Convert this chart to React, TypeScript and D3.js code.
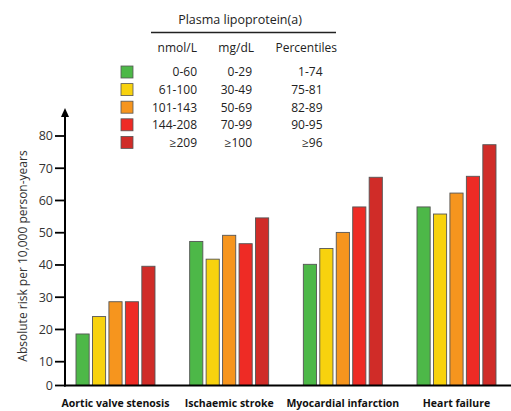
import React from "react";
import * as d3 from "d3";

const categories = ["Aortic valve stenosis", "Ischaemic stroke", "Myocardial infarction", "Heart failure"];
const levels = ["0-60", "61-100", "101-143", "144-208", "≥209"];
const mgdl = ["0-29", "30-49", "50-69", "70-99", "≥100"];
const percentiles = ["1-74", "75-81", "82-89", "90-95", "≥96"];
const colors = ["#4db848", "#f8d20e", "#f6951e", "#ee2b25", "#d02c28"];
const values = [
  [18.6, 24.0, 28.6, 28.6, 39.6],
  [47.3, 41.8, 49.2, 46.6, 54.6],
  [40.2, 45.1, 50.1, 58.0, 67.2],
  [58.0, 55.8, 62.3, 67.5, 77.3],
];
const yTicks = [0, 10, 20, 30, 40, 50, 60, 70, 80];

const W = 511;
const H = 411;
const FONT = "'Open Sans', 'DejaVu Sans', sans-serif";

export default function App() {
  const axisX = 65;
  const y = d3.scaleLinear().domain([0, 10, 80]).range([385.5, 361.7, 136]);
  const x0 = d3.scaleBand<string>().domain(categories).range([76, 496]).paddingInner(0.305).paddingOuter(0);
  const x1 = d3.scaleBand<number>().domain(d3.range(levels.length)).range([0, x0.bandwidth()]).paddingInner(0.2);

  const rowY = (i: number) => 72 + i * 17.6;

  return (
    <svg width={W} height={H} style={{ position: "absolute", left: 0, top: 0, background: "#fff" }} fontFamily={FONT}>
      {/* Legend */}
      <text x={240} y={24} textAnchor="middle" fontSize={12.5} fill="#222">Plasma lipoprotein(a)</text>
      <line x1={151} x2={336} y1={32.5} y2={32.5} stroke="#222" strokeWidth={1.3} />
      <text x={197} y={52} textAnchor="end" fontSize={12} fill="#222">nmol/L</text>
      <text x={254} y={52} textAnchor="end" fontSize={12} fill="#222">mg/dL</text>
      <text x={337} y={52} textAnchor="end" fontSize={12} fill="#222">Percentiles</text>
      {levels.map((lv, i) => (
        <g key={lv}>
          <rect x={121} y={rowY(i) - 6} width={12} height={12} fill={colors[i]} stroke="#555" strokeWidth={0.8} />
          <text x={197} y={rowY(i) + 4.3} textAnchor="end" fontSize={12} fill="#222">{lv}</text>
          <text x={252} y={rowY(i) + 4.3} textAnchor="end" fontSize={12} fill="#222">{mgdl[i]}</text>
          <text x={322.5} y={rowY(i) + 4.3} textAnchor="end" fontSize={12} fill="#222">{percentiles[i]}</text>
        </g>
      ))}

      {/* Bars */}
      {categories.map((c, ci) => (
        <g key={c} transform={`translate(${x0(c)},0)`}>
          {values[ci].map((v, i) => (
            <rect
              key={i}
              x={x1(i)}
              y={y(v)}
              width={x1.bandwidth()}
              height={y(0) - y(v)}
              fill={colors[i]}
              stroke="#555"
              strokeWidth={0.9}
            />
          ))}
          <text
            x={x0.bandwidth() / 2}
            y={407}
            textAnchor="middle"
            fontSize={10.5}
            fontWeight="bold"
            fill="#111"
          >
            {c}
          </text>
        </g>
      ))}

      {/* Y axis */}
      <line x1={axisX} x2={axisX} y1={114} y2={y(0) + 1} stroke="#000" strokeWidth={2} />
      <path d={`M${axisX - 4},${117} L${axisX},${108} L${axisX + 4},${117} Z`} fill="#000" />
      <line x1={axisX - 1} x2={W} y1={y(0)} y2={y(0)} stroke="#000" strokeWidth={2} />
      {yTicks.map((t) => (
        <g key={t}>
          <line x1={55} x2={axisX} y1={y(t)} y2={y(t)} stroke="#000" strokeWidth={1.8} />
          <text x={53} y={y(t) + 4.3} textAnchor="end" fontSize={12.5} fill="#333">{t}</text>
        </g>
      ))}
      <text
        transform={`translate(27,256) rotate(-90)`}
        textAnchor="middle"
        fontSize={12}
        fill="#333"
      >
        Absolute risk per 10,000 person-years
      </text>
    </svg>
  );
}
